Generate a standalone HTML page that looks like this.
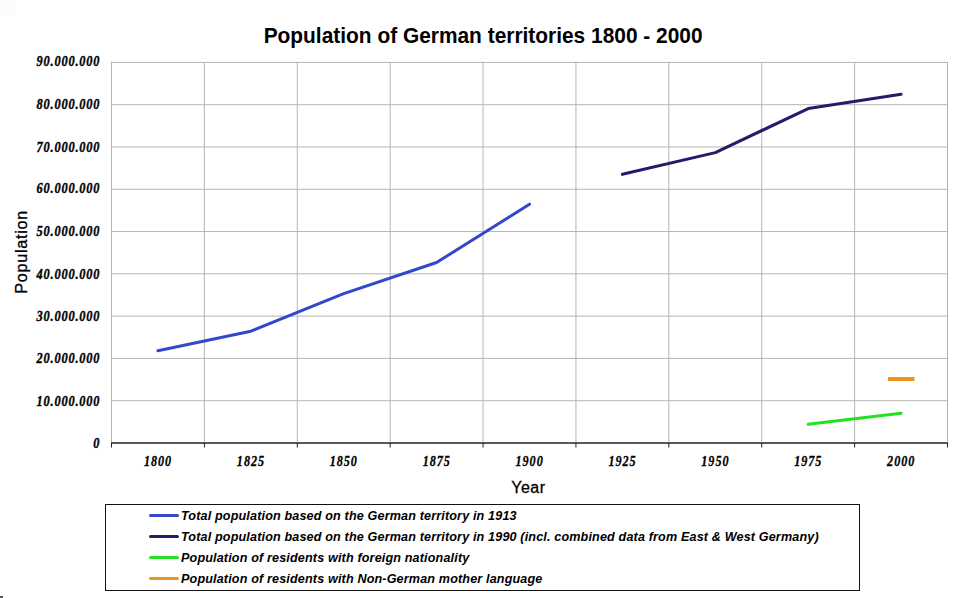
<!DOCTYPE html>
<html><head><meta charset="utf-8"><style>
html,body{margin:0;padding:0;background:#fff;}
body{width:960px;height:598px;overflow:hidden;position:relative;}
svg{position:absolute;left:0;top:0;}
.t{font-family:"Liberation Sans",sans-serif;}
.s{font-family:"Liberation Serif",serif;font-weight:bold;font-style:italic;stroke:#000;stroke-width:0.4px;}
.r{stroke:#000;stroke-width:0.3px;}
</style></head><body>
<svg width="960" height="598" viewBox="0 0 960 598">
<text class="t" transform="translate(483.1,42.5) scale(1,1.025)" font-size="20.9" font-weight="bold" text-anchor="middle" fill="#000">Population of German territories 1800 - 2000</text>
<path d="M111.00 400.71H948.00 M111.00 358.42H948.00 M111.00 316.13H948.00 M111.00 273.84H948.00 M111.00 231.56H948.00 M111.00 189.27H948.00 M111.00 146.98H948.00 M111.00 104.69H948.00 M111.00 62.40H948.00 M111.50 61.90V443.0 M204.39 61.90V443.0 M297.28 61.90V443.0 M390.17 61.90V443.0 M483.06 61.90V443.0 M575.94 61.90V443.0 M668.83 61.90V443.0 M761.72 61.90V443.0 M854.61 61.90V443.0 M947.50 61.90V443.0" stroke="#b4b4b4" stroke-width="1" fill="none"/>
<path d="M111.0 443.0H948.0" stroke="#5a5a5a" stroke-width="2" fill="none"/>
<path d="M111.50 443.0V447.5 M204.39 443.0V447.5 M297.28 443.0V447.5 M390.17 443.0V447.5 M483.06 443.0V447.5 M575.94 443.0V447.5 M668.83 443.0V447.5 M761.72 443.0V447.5 M854.61 443.0V447.5 M947.50 443.0V447.5" stroke="#222" stroke-width="1" fill="none"/>
<text class="s" transform="translate(100.3,448.4) scale(0.8,1)" font-size="15.4" letter-spacing="1.05" text-anchor="end">0</text>
<text class="s" transform="translate(100.3,405.9) scale(0.8,1)" font-size="15.4" letter-spacing="1.05" text-anchor="end">10.000.000</text>
<text class="s" transform="translate(100.3,362.6) scale(0.8,1)" font-size="15.4" letter-spacing="1.05" text-anchor="end">20.000.000</text>
<text class="s" transform="translate(100.3,321.2) scale(0.8,1)" font-size="15.4" letter-spacing="1.05" text-anchor="end">30.000.000</text>
<text class="s" transform="translate(100.3,279.1) scale(0.8,1)" font-size="15.4" letter-spacing="1.05" text-anchor="end">40.000.000</text>
<text class="s" transform="translate(100.3,236.4) scale(0.8,1)" font-size="15.4" letter-spacing="1.05" text-anchor="end">50.000.000</text>
<text class="s" transform="translate(100.3,193.4) scale(0.8,1)" font-size="15.4" letter-spacing="1.05" text-anchor="end">60.000.000</text>
<text class="s" transform="translate(100.3,151.9) scale(0.8,1)" font-size="15.4" letter-spacing="1.05" text-anchor="end">70.000.000</text>
<text class="s" transform="translate(100.3,109.2) scale(0.8,1)" font-size="15.4" letter-spacing="1.05" text-anchor="end">80.000.000</text>
<text class="s" transform="translate(100.3,66.4) scale(0.8,1)" font-size="15.4" letter-spacing="1.05" text-anchor="end">90.000.000</text>
<text class="s" style="stroke-width:0.3px" transform="translate(158.04,466.4) scale(0.8,1)" font-size="15.2" letter-spacing="1.2" text-anchor="middle">1800</text>
<text class="s" style="stroke-width:0.3px" transform="translate(250.93,466.4) scale(0.8,1)" font-size="15.2" letter-spacing="1.2" text-anchor="middle">1825</text>
<text class="s" style="stroke-width:0.3px" transform="translate(343.82,466.4) scale(0.8,1)" font-size="15.2" letter-spacing="1.2" text-anchor="middle">1850</text>
<text class="s" style="stroke-width:0.3px" transform="translate(436.71,466.4) scale(0.8,1)" font-size="15.2" letter-spacing="1.2" text-anchor="middle">1875</text>
<text class="s" style="stroke-width:0.3px" transform="translate(529.60,466.4) scale(0.8,1)" font-size="15.2" letter-spacing="1.2" text-anchor="middle">1900</text>
<text class="s" style="stroke-width:0.3px" transform="translate(622.49,466.4) scale(0.8,1)" font-size="15.2" letter-spacing="1.2" text-anchor="middle">1925</text>
<text class="s" style="stroke-width:0.3px" transform="translate(715.38,466.4) scale(0.8,1)" font-size="15.2" letter-spacing="1.2" text-anchor="middle">1950</text>
<text class="s" style="stroke-width:0.3px" transform="translate(808.27,466.4) scale(0.8,1)" font-size="15.2" letter-spacing="1.2" text-anchor="middle">1975</text>
<text class="s" style="stroke-width:0.3px" transform="translate(901.16,466.4) scale(0.8,1)" font-size="15.2" letter-spacing="1.2" text-anchor="middle">2000</text>
<text class="t r" x="528.4" y="492.6" font-size="16" letter-spacing="0.45" text-anchor="middle">Year</text>
<text class="t r" transform="translate(26.8,251.9) rotate(-90)" x="0" y="0" font-size="16.2" letter-spacing="0.7" text-anchor="middle">Population</text>
<polyline points="157.9,350.7 250.8,331.2 343.7,293.7 436.6,262.5 529.5,204.2" fill="none" stroke="#3347cc" stroke-width="3" stroke-linejoin="round" stroke-linecap="round"/>
<polyline points="622.4,174.3 715.3,152.6 808.2,108.6 901.1,94.2" fill="none" stroke="#231c6a" stroke-width="3" stroke-linejoin="round" stroke-linecap="round"/>
<polyline points="808.2,424.2 901.1,413.2" fill="none" stroke="#22e022" stroke-width="3" stroke-linejoin="round" stroke-linecap="round"/>
<path d="M888 379H914.5" stroke="#e8961e" stroke-width="4" stroke-linecap="butt"/>
<rect x="105.5" y="504.5" width="754" height="86" fill="#fff" stroke="#111" stroke-width="1"/>
<path d="M150.5 515.5H177.5" stroke="#3347cc" stroke-width="3" stroke-linecap="round"/>
<text class="t" transform="translate(181,519.80) scale(1,1.04)" font-size="12.6" font-weight="bold" font-style="italic" letter-spacing="0.15">Total population based on the German territory in 1913</text>
<path d="M150.5 536.5H177.5" stroke="#231c6a" stroke-width="3" stroke-linecap="round"/>
<text class="t" transform="translate(181,540.80) scale(1,1.04)" font-size="12.6" font-weight="bold" font-style="italic" letter-spacing="0.15">Total population based on the German territory in 1990 (incl. combined data from East &amp; West Germany)</text>
<path d="M150.5 557.5H177.5" stroke="#22e022" stroke-width="3" stroke-linecap="round"/>
<text class="t" transform="translate(181,561.80) scale(1,1.04)" font-size="12.6" font-weight="bold" font-style="italic" letter-spacing="0.15">Population of residents with foreign nationality</text>
<path d="M150.5 578.5H177.5" stroke="#e8961e" stroke-width="3" stroke-linecap="round"/>
<text class="t" transform="translate(181,582.80) scale(1,1.04)" font-size="12.6" font-weight="bold" font-style="italic" letter-spacing="0.15">Population of residents with Non-German mother language</text>
<rect x="0" y="596" width="3" height="2" fill="#555"/>
<rect x="0" y="0" width="16" height="16" fill="#fbfbfb"/>
</svg>
</body></html>
